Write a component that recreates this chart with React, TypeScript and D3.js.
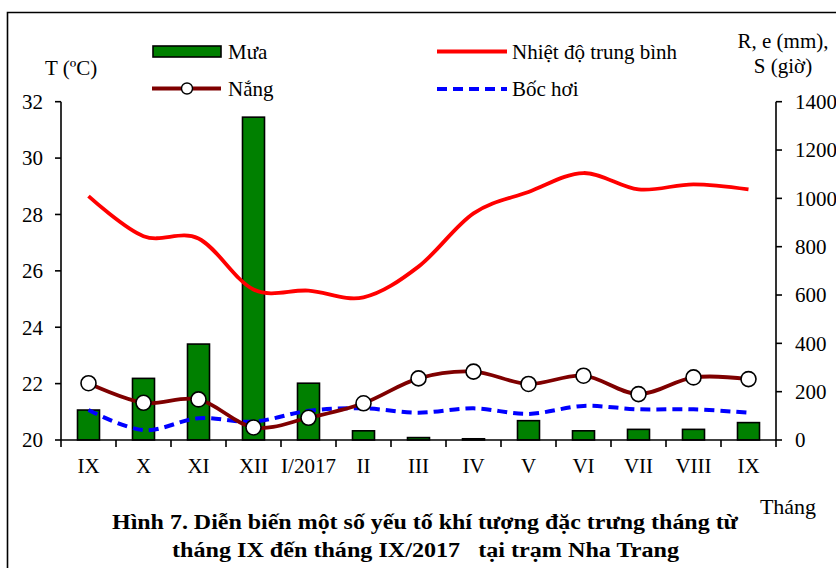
import React from "react";
import * as d3 from "d3";

const months = ["IX", "X", "XI", "XII", "I/2017", "II", "III", "IV", "V", "VI", "VII", "VIII", "IX "];
const rain = [124, 255, 397, 1336, 235, 38, 10, 5, 80, 38, 44, 44, 72];
const temperature = [28.65, 27.23, 27.15, 25.34, 25.3, 25.06, 26.15, 28.04, 28.8, 29.47, 28.89, 29.07, 28.89];
const sunshine = [235, 154, 168, 52, 92, 152, 255, 283, 232, 266, 190, 259, 252];
const evaporation = [124, 41, 90, 76, 121, 131, 113, 131, 108, 141, 127, 127, 113];
const leftTicks = [20, 22, 24, 26, 28, 30, 32];
const rightTicks = [0, 200, 400, 600, 800, 1000, 1200, 1400];

const W = 836;
const H = 568;
const X0 = 61;
const X1 = 776;
const YT = 101.7;
const YB = 440;
const serif = "'Liberation Serif', 'Times New Roman', serif";
const FS = 21;

export default function App() {
  const x = d3.scaleBand<string>().domain(months).range([X0, X1]).paddingInner(0).paddingOuter(0);
  const yL = d3.scaleLinear().domain([20, 32]).range([YB, YT]);
  const yR = d3.scaleLinear().domain([0, 1400]).range([YB, YT]);
  const cx = (i: number) => (x(months[i]) as number) + x.bandwidth() / 2;
  const barW = x.bandwidth() * 0.4;

  const curve = d3.curveCardinal.tension(0);
  const tempLine = d3.line<number>().x((_, i) => cx(i)).y((d) => yL(d)).curve(curve);
  const rightLine = d3.line<number>().x((_, i) => cx(i)).y((d) => yR(d)).curve(curve);

  const boundaries = months.map((m) => x(m) as number).concat([X1]);

  return (
    <svg width={W} height={H} style={{ display: "block", position: "absolute", left: 0, top: 0 }} fontFamily={serif}>
      <rect x={0} y={0} width={W} height={H} fill="#fff" />
      {/* border */}
      <path d={`M7.5,${H + 5} V12.5 H${W + 5}`} fill="none" stroke="#000" strokeWidth={1.6} />

      {/* bars */}
      {rain.map((v, i) => (
        <rect key={i} x={cx(i) - barW / 2} y={yR(v)} width={barW} height={YB - yR(v)} fill="#008000" stroke="#000" strokeWidth={1.6} />
      ))}

      {/* evaporation */}
      <path d={rightLine(evaporation) || ""} fill="none" stroke="#0000FF" strokeWidth={4} strokeDasharray="10,6" />
      {/* temperature */}
      <path d={tempLine(temperature) || ""} fill="none" stroke="#FF0000" strokeWidth={3.8} />
      {/* sunshine */}
      <path d={rightLine(sunshine) || ""} fill="none" stroke="#7F0000" strokeWidth={3.8} />
      {sunshine.map((v, i) => (
        <circle key={i} cx={cx(i)} cy={yR(v)} r={7.5} fill="#fff" stroke="#000" strokeWidth={1.6} />
      ))}

      {/* axes */}
      <line x1={X0} x2={X0} y1={YT} y2={YB} stroke="#000" strokeWidth={1.6} />
      <line x1={X1} x2={X1} y1={YT} y2={YB} stroke="#000" strokeWidth={1.6} />
      <line x1={X0} x2={X1} y1={YB} y2={YB} stroke="#000" strokeWidth={1.6} />
      {leftTicks.map((t) => (
        <g key={t}>
          <line x1={X0 - 6} x2={X0} y1={yL(t)} y2={yL(t)} stroke="#000" strokeWidth={1.6} />
          <text x={43} y={yL(t)} dy="0.35em" textAnchor="end" fontSize={FS} fill="#000">{t}</text>
        </g>
      ))}
      {rightTicks.map((t) => (
        <g key={t}>
          <line x1={X1} x2={X1 + 6} y1={yR(t)} y2={yR(t)} stroke="#000" strokeWidth={1.6} />
          <text x={795} y={yR(t)} dy="0.35em" textAnchor="start" fontSize={FS} fill="#000">{t}</text>
        </g>
      ))}
      {boundaries.map((b, i) => (
        <line key={i} x1={b} x2={b} y1={YB} y2={YB + 7} stroke="#000" strokeWidth={1.6} />
      ))}
      {months.map((m, i) => (
        <text key={i} x={cx(i)} y={466} dy="0.35em" textAnchor="middle" fontSize={FS} fill="#000">{m.trim()}</text>
      ))}

      {/* axis titles */}
      <text x={45} y={68} dy="0.35em" fontSize={FS} fill="#000">T (ºC)</text>
      <text x={783} y={41} dy="0.35em" textAnchor="middle" fontSize={FS} fill="#000">R, e (mm),</text>
      <text x={783} y={66} dy="0.35em" textAnchor="middle" fontSize={FS} fill="#000">S (giờ)</text>
      <text x={788} y={506} dy="0.35em" textAnchor="middle" fontSize={22} fill="#000">Tháng</text>

      {/* legend */}
      <rect x={153} y={46} width={68} height={11} fill="#008000" stroke="#000" strokeWidth={1.6} />
      <text x={228} y={52} dy="0.35em" fontSize={FS} fill="#000">Mưa</text>
      <line x1={152} x2={221} y1={88.5} y2={88.5} stroke="#7F0000" strokeWidth={3.8} />
      <circle cx={187} cy={88.5} r={5.5} fill="#fff" stroke="#000" strokeWidth={1.4} />
      <text x={228} y={89} dy="0.35em" fontSize={FS} fill="#000">Nắng</text>
      <line x1={437} x2={507} y1={51.5} y2={51.5} stroke="#FF0000" strokeWidth={3.8} />
      <text x={512} y={52} dy="0.35em" fontSize={FS} fill="#000">Nhiệt độ trung bình</text>
      <line x1={437} x2={507} y1={89} y2={89} stroke="#0000FF" strokeWidth={4} strokeDasharray="10,6" />
      <text x={512} y={89} dy="0.35em" fontSize={FS} fill="#000">Bốc hơi</text>

      {/* caption */}
      <text x={425} y={522} dy="0.35em" textAnchor="middle" fontSize={20} fontWeight="bold" fill="#000" textLength={626} lengthAdjust="spacingAndGlyphs">
        Hình  7. Diễn biến một số yếu tố khí tượng đặc trưng tháng từ
      </text>
      <text x={425.5} y={550} dy="0.35em" textAnchor="middle" fontSize={20} fontWeight="bold" fill="#000" textLength={507} lengthAdjust="spacingAndGlyphs" style={{ whiteSpace: "pre" }}>
        {"tháng IX đến tháng IX/2017   tại trạm Nha Trang"}
      </text>
    </svg>
  );
}
